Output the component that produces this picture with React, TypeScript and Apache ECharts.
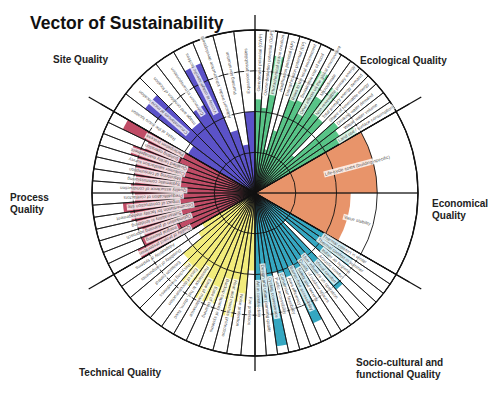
import React, { useEffect, useRef } from 'react';
import * as echarts from 'echarts';

// ---- data ----
const ecologicalCategories = [
  'Greenhouse potential (GWP)', 'Ozone depletion potential (ODP)', 'Photochemical ozone creation',
  'Acidification potential (AP)', 'Eutrophication potential (EP)', 'Risks to the local environment',
  'Sustainable use of wood', 'Other effects on the global environment', 'Microclimate',
  'Non-renewable primary energy', 'Total primary energy demand', 'Share of renewable energy',
  'Drinking water demand', 'Waste water volume', 'Land use / surface consumption',
];
const ecologicalValues = [2.3, 2.1, 3.4, 1.1, 1.6, 2.9, 2.5, 3.4, 2.8, 3.2, 2.4, 1.3, 2.6, 2.5, 2.9];

const economicalCategories = ['Life-cycle costs (building-specific)', 'Value stability'];
const economicalValues = [3.0, 2.35];

const socioCategories = [
  'Thermal comfort in winter', 'Thermal comfort in summer', 'Indoor air hygiene', 'Acoustic comfort',
  'Visual comfort', 'User influence on operation', 'Quality of outdoor spaces', 'Safety and security',
  'Barrier-free accessibility', 'Area efficiency', 'Conversion feasibility', 'Public accessibility',
  'Cycling convenience', 'Design and urban planning quality', 'Art in construction',
];
const socioValues = [2.6, 2.9, 2.4, 1.0, 3.1, 2.5, 2.3, 2.6, 3.5, 2.2, 2.4, 2.0, 3.8, 2.7, 2.8];

const technicalCategories = [
  'Fire protection', 'Noise protection', 'Heat and moisture protection', 'Backup capacity of systems',
  'Ease of cleaning', 'Ease of maintenance', 'Resistance to hail, storm, flood', 'Ease of deconstruction',
  'Recycling friendliness', 'Emission control', 'Durability of components', 'Adaptability of systems',
];
const technicalValues = [1.9, 2.7, 3.1, 2.7, 2.9, 2.95, 2.6, 2.8, 2.5, 2.3, 1.7, 1.5];

const processCategories = [
  'Quality of project preparation', 'Integral planning', 'Optimisation of planning approach',
  'Sustainability in tendering', 'Documentation for facility management', 'Impact of construction site',
  'Prequalification of contractors', 'Quality assurance of construction', 'Systematic commissioning',
  'Monitoring of consumption', 'Customer satisfaction survey', 'Qualified facility management',
  'Building operation', 'Participation process',
];
const processValues = [3.2, 3.0, 2.9, 3.0, 3.1, 3.25, 2.95, 3.05, 2.95, 3.0, 3.0, 3.2, 2.9, 3.6];

const siteCategories = [
  'Risks at the micro location', 'Circumstances at micro location', 'Image and condition of location',
  'Connection to transportation', 'Vicinity to usage-specific facilities',
  'Adjacent media, infrastructure development', 'Planning law situation', 'Expansion possibilities',
];
const siteValues = [1.9, 3.4, 2.2, 2.5, 3.45, 1.6, 1.2, 2.0];

const scaleMax = 4;

const sectorTitles = [
  'Site Quality', 'Ecological Quality', 'Economical\nQuality', 'Process\nQuality',
  'Technical Quality', 'Socio-cultural and\nfunctional Quality',
];

export default function App() {
  const ref = useRef<HTMLDivElement>(null);
  useEffect(() => {
    const chart = echarts.init(ref.current!, null, { renderer: 'svg' });
    const CENTER = [255, 193];
    const R = 163;
    const groups = [
      { cats: ecologicalCategories, vals: ecologicalValues, color: '#58c487', start: 90, end: 30, labelR: 3.2 },
      { cats: economicalCategories, vals: economicalValues, color: '#e8946a', start: 30, end: -30, labelR: 2.6 },
      { cats: socioCategories, vals: socioValues, color: '#35a7c1', start: 330, end: 270, labelR: 2.6 },
      { cats: technicalCategories, vals: technicalValues, color: '#f2ec7c', start: 270, end: 210, labelR: 2.9 },
      { cats: processCategories, vals: processValues, color: '#c04c66', start: 210, end: 150, labelR: 2.5 },
      { cats: siteCategories, vals: siteValues, color: '#5b52c8', start: 150, end: 90, labelR: 3.0 },
    ];
    const ink = '#111';
    const polar: any[] = groups.map(() => ({ center: CENTER, radius: R }));
    polar.push({ center: CENTER, radius: 178 });
    polar.push({ center: CENTER, radius: 192 });

    const angleAxis: any[] = groups.map((g, k) => ({
      polarIndex: k,
      type: 'category',
      data: g.cats,
      startAngle: g.start,
      endAngle: g.end,
      boundaryGap: true,
      axisLine: { show: true, lineStyle: { color: ink, width: 1.4 } },
      axisTick: { show: false },
      axisLabel: { show: false },
      splitLine: { show: false },
      z: 10,
    }));
    const dummy = ['a', 'b', 'c', 'd', 'e', 'f'];
    angleAxis.push({
      polarIndex: 6, type: 'category', data: dummy, startAngle: 90, boundaryGap: true,
      axisLine: { show: false }, axisTick: { show: false }, axisLabel: { show: false },
      splitLine: { show: true, lineStyle: { color: ink, width: 1.3 } }, z: 10,
    });
    angleAxis.push({
      polarIndex: 7, type: 'category', data: dummy, startAngle: 90, boundaryGap: true,
      axisLine: { show: false }, axisTick: { show: false }, axisLabel: { show: false },
      splitLine: { show: true, lineStyle: { color: ['transparent', ink, ink, 'transparent', ink, ink], width: 1.3 } }, z: 10,
    });

    const radiusAxis: any[] = groups.map((_, k) => ({
      polarIndex: k, type: 'value', min: 0, max: scaleMax, interval: 1,
      axisLine: { show: false }, axisTick: { show: false }, axisLabel: { show: false },
      splitLine: { show: true, lineStyle: { color: ink, width: 0.9 } }, z: 10,
    }));
    radiusAxis.push({ polarIndex: 6, type: 'value', min: 0, max: 1, axisLine: { show: false }, axisTick: { show: false }, axisLabel: { show: false }, splitLine: { show: false } });
    radiusAxis.push({ polarIndex: 7, type: 'value', min: 0, max: 1, axisLine: { show: false }, axisTick: { show: false }, axisLabel: { show: false }, splitLine: { show: false } });

    const series: any[] = [];
    groups.forEach((g, k) => {
      series.push({
        type: 'bar', coordinateSystem: 'polar', polarIndex: k, data: g.vals,
        barCategoryGap: '0%', barGap: '-100%', itemStyle: { color: g.color }, z: 2, silent: true,
      });
    });
    // cell outlines (full-length transparent bars with dark border)
    groups.forEach((g, k) => {
      series.push({
        type: 'bar', coordinateSystem: 'polar', polarIndex: k, data: g.cats.map(() => scaleMax),
        barCategoryGap: '0%', barGap: '-100%',
        itemStyle: { color: 'rgba(0,0,0,0)', borderColor: ink, borderWidth: 0.8 }, z: 3, silent: true,
      });
    });
    groups.forEach((g, k) => {
      const step = (g.start - g.end) / g.cats.length;
      series.push({
        type: 'scatter', coordinateSystem: 'polar', polarIndex: k, symbolSize: 1,
        itemStyle: { color: 'rgba(0,0,0,0)' }, z: 20, silent: true,
        data: g.cats.map((c, i) => ({
          name: c, value: [g.labelR, i],
          label: { rotate: g.start - (i + 0.5) * step },
        })),
        label: {
          show: true, position: 'inside', formatter: '{b}', fontSize: 4.5, color: '#222',
          fontFamily: 'Liberation Sans, Arial, sans-serif', backgroundColor: '#fff', padding: [0.5, 1],
        },
      });
    });

    const titleFont = 'bold 10px "Liberation Sans", Arial, sans-serif';
    const titlePos = [
      [53, 53], [360, 54], [432, 197], [10, 191], [79, 366], [356, 356],
    ];
    const graphic: any[] = [
      { type: 'text', left: 30, top: 14, style: { text: 'Vector of Sustainability', font: 'bold 17.5px "Liberation Sans", Arial, sans-serif', fill: '#111' } },
      ...sectorTitles.map((t, i) => ({
        type: 'text', left: titlePos[i][0], top: titlePos[i][1],
        style: { text: t, font: titleFont, fill: '#222', lineHeight: 12 },
      })),
    ];

    chart.setOption({
      animation: false,
      backgroundColor: '#fff',
      polar, angleAxis, radiusAxis, series, graphic,
    });
    return () => chart.dispose();
  }, []);
  return <div ref={ref} style={{ position: 'fixed', left: 0, top: 0, width: 500, height: 394, background: '#fff' }} />;
}
